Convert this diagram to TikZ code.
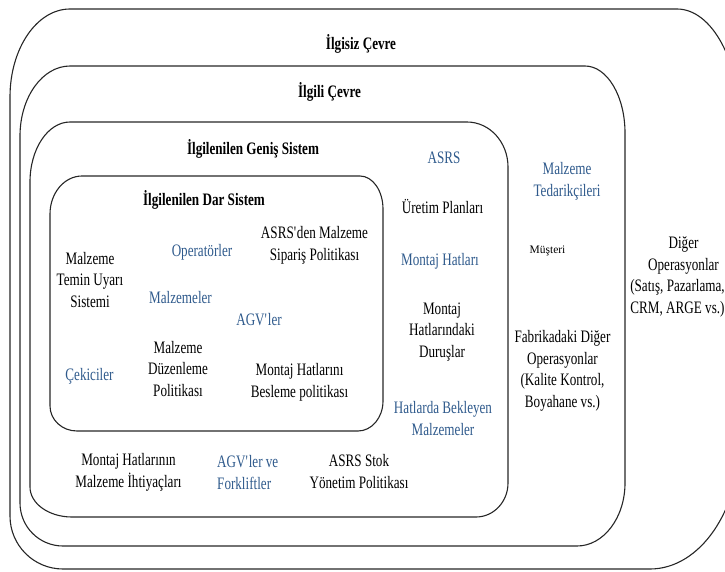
\documentclass[tikz,border=0pt]{standalone}
\usepackage{fontspec}
\setmainfont{Liberation Serif}[FakeStretch=0.75]
\newfontfamily\plainserif{Liberation Serif}
\definecolor{itemblue}{HTML}{2F5A8C}

% corner radii of the next frame: top-left, top-right, bottom-right, bottom-left (x and y)
\newcommand\setradii[8]{\def\rtlx{#1}\def\rtly{#2}\def\rtrx{#3}\def\rtry{#4}%
  \def\rbrx{#5}\def\rbry{#6}\def\rblx{#7}\def\rbly{#8}}
% frame with elliptical corners: left, top, right, bottom
\newcommand\drawframe[4]{%
  \draw[frame] (#1+\rtlx,#2) -- (#3-\rtrx,#2)
    .. controls (#3-0.4477*\rtrx,#2) and (#3,#2+0.4477*\rtry) .. (#3,#2+\rtry)
    -- (#3,#4-\rbry)
    .. controls (#3,#4-0.4477*\rbry) and (#3-0.4477*\rbrx,#4) .. (#3-\rbrx,#4)
    -- (#1+\rblx,#4)
    .. controls (#1+0.4477*\rblx,#4) and (#1,#4-0.4477*\rbly) .. (#1,#4-\rbly)
    -- (#1,#2+\rtly)
    .. controls (#1,#2+0.4477*\rtly) and (#1+0.4477*\rtlx,#2) .. (#1+\rtlx,#2) -- cycle;}

% multi-line labels sit on the baseline of their last line
\tikzset{
  frame/.style={line width=1.1pt, draw=black!85},
  lbl/.style={anchor=base, align=center, inner sep=0pt,
    font=\fontsize{17.5}{21.5}\selectfont},
  title/.style={lbl, font=\fontsize{17.5}{21.5}\selectfont\bfseries},
  bluelbl/.style={lbl, text=itemblue},
}

\begin{document}
\begin{tikzpicture}[x=1pt,y=-1pt]
\useasboundingbox (0,0) rectangle (725,571);
\clip (0,0) rectangle (725,571);

% nested system boundaries
\setradii{60}{88}{63}{116}{90}{130}{53}{53}
\drawframe{10}{9}{740}{569}
\setradii{50}{70}{40}{67}{48}{63}{43}{43}
\drawframe{20}{66}{625}{546}
\setradii{40}{60}{41}{45}{32}{34}{42}{30}
\drawframe{30}{122}{508}{517}
\setradii{32}{38}{23}{33}{25}{30}{27}{25}
\drawframe{50}{176}{383}{431}

% titles
\node[title] (ilgisiz) at (361,49) {İlgisiz Çevre};
\node[title] (ilgili) at (329.5,97) {İlgili Çevre};
\node[title] (genis) at (253,154) {İlgilenilen Geniş Sistem};
\node[title] (dar) at (204,205) {İlgilenilen Dar Sistem};

% narrow system
\node[lbl] (temin) at (90,307) {Malzeme\\Temin Uyarı\\Sistemi};
\node[bluelbl] (operator) at (202,256) {Operatörler};
\node[lbl] (siparis) at (314.5,260) {ASRS\textquotesingle den Malzeme\\Sipariş Politikası};
\node[bluelbl] (malzemeler) at (180.5,303) {Malzemeler};
\node[bluelbl] (agv) at (259,325) {AGV\textquotesingle ler};
\node[bluelbl] (cekici) at (89.5,380) {Çekiciler};
\node[lbl] (duzen) at (178,396) {Malzeme\\Düzenleme\\Politikası};
\node[lbl] (besleme) at (299.5,397) {Montaj Hatlarını\\Besleme politikası};

% wide system
\node[bluelbl] (asrs) at (444,163) {ASRS};
\node[lbl] (uretim) at (442.5,213) {Üretim Planları};
\node[bluelbl] (montaj) at (440,265) {Montaj Hatları};
\node[lbl] (durus) at (442,357) {Montaj\\Hatlarındaki\\Duruşlar};
\node[bluelbl] (bekleyen) at (443,435) {Hatlarda Bekleyen\\Malzemeler};
\node[lbl] (ihtiyac) at (128.5,487) {Montaj Hatlarının\\Malzeme İhtiyaçları};
\node[bluelbl, align=left, anchor=base west] (forklift) at (217,489) {AGV\textquotesingle ler ve\\Forkliftler};
\node[lbl] (stok) at (359,488) {ASRS Stok\\Yönetim Politikası};

% relevant environment
\node[bluelbl] (tedarik) at (567,196) {Malzeme\\Tedarikçileri};
\node[lbl, font=\plainserif\fontsize{11.5}{14}\selectfont] (musteri) at (547.5,253) {Müşteri};
\node[lbl] (fabrika) at (562.5,407) {Fabrikadaki Diğer\\Operasyonlar\\(Kalite Kontrol,\\Boyahane vs.)};

% irrelevant environment
\node[lbl] (diger) at (677.5,313) {\hspace*{12pt}Diğer\\\hspace*{12pt}Operasyonlar\\(Satış, Pazarlama,\\CRM, ARGE vs.)};
\end{tikzpicture}
\end{document}
